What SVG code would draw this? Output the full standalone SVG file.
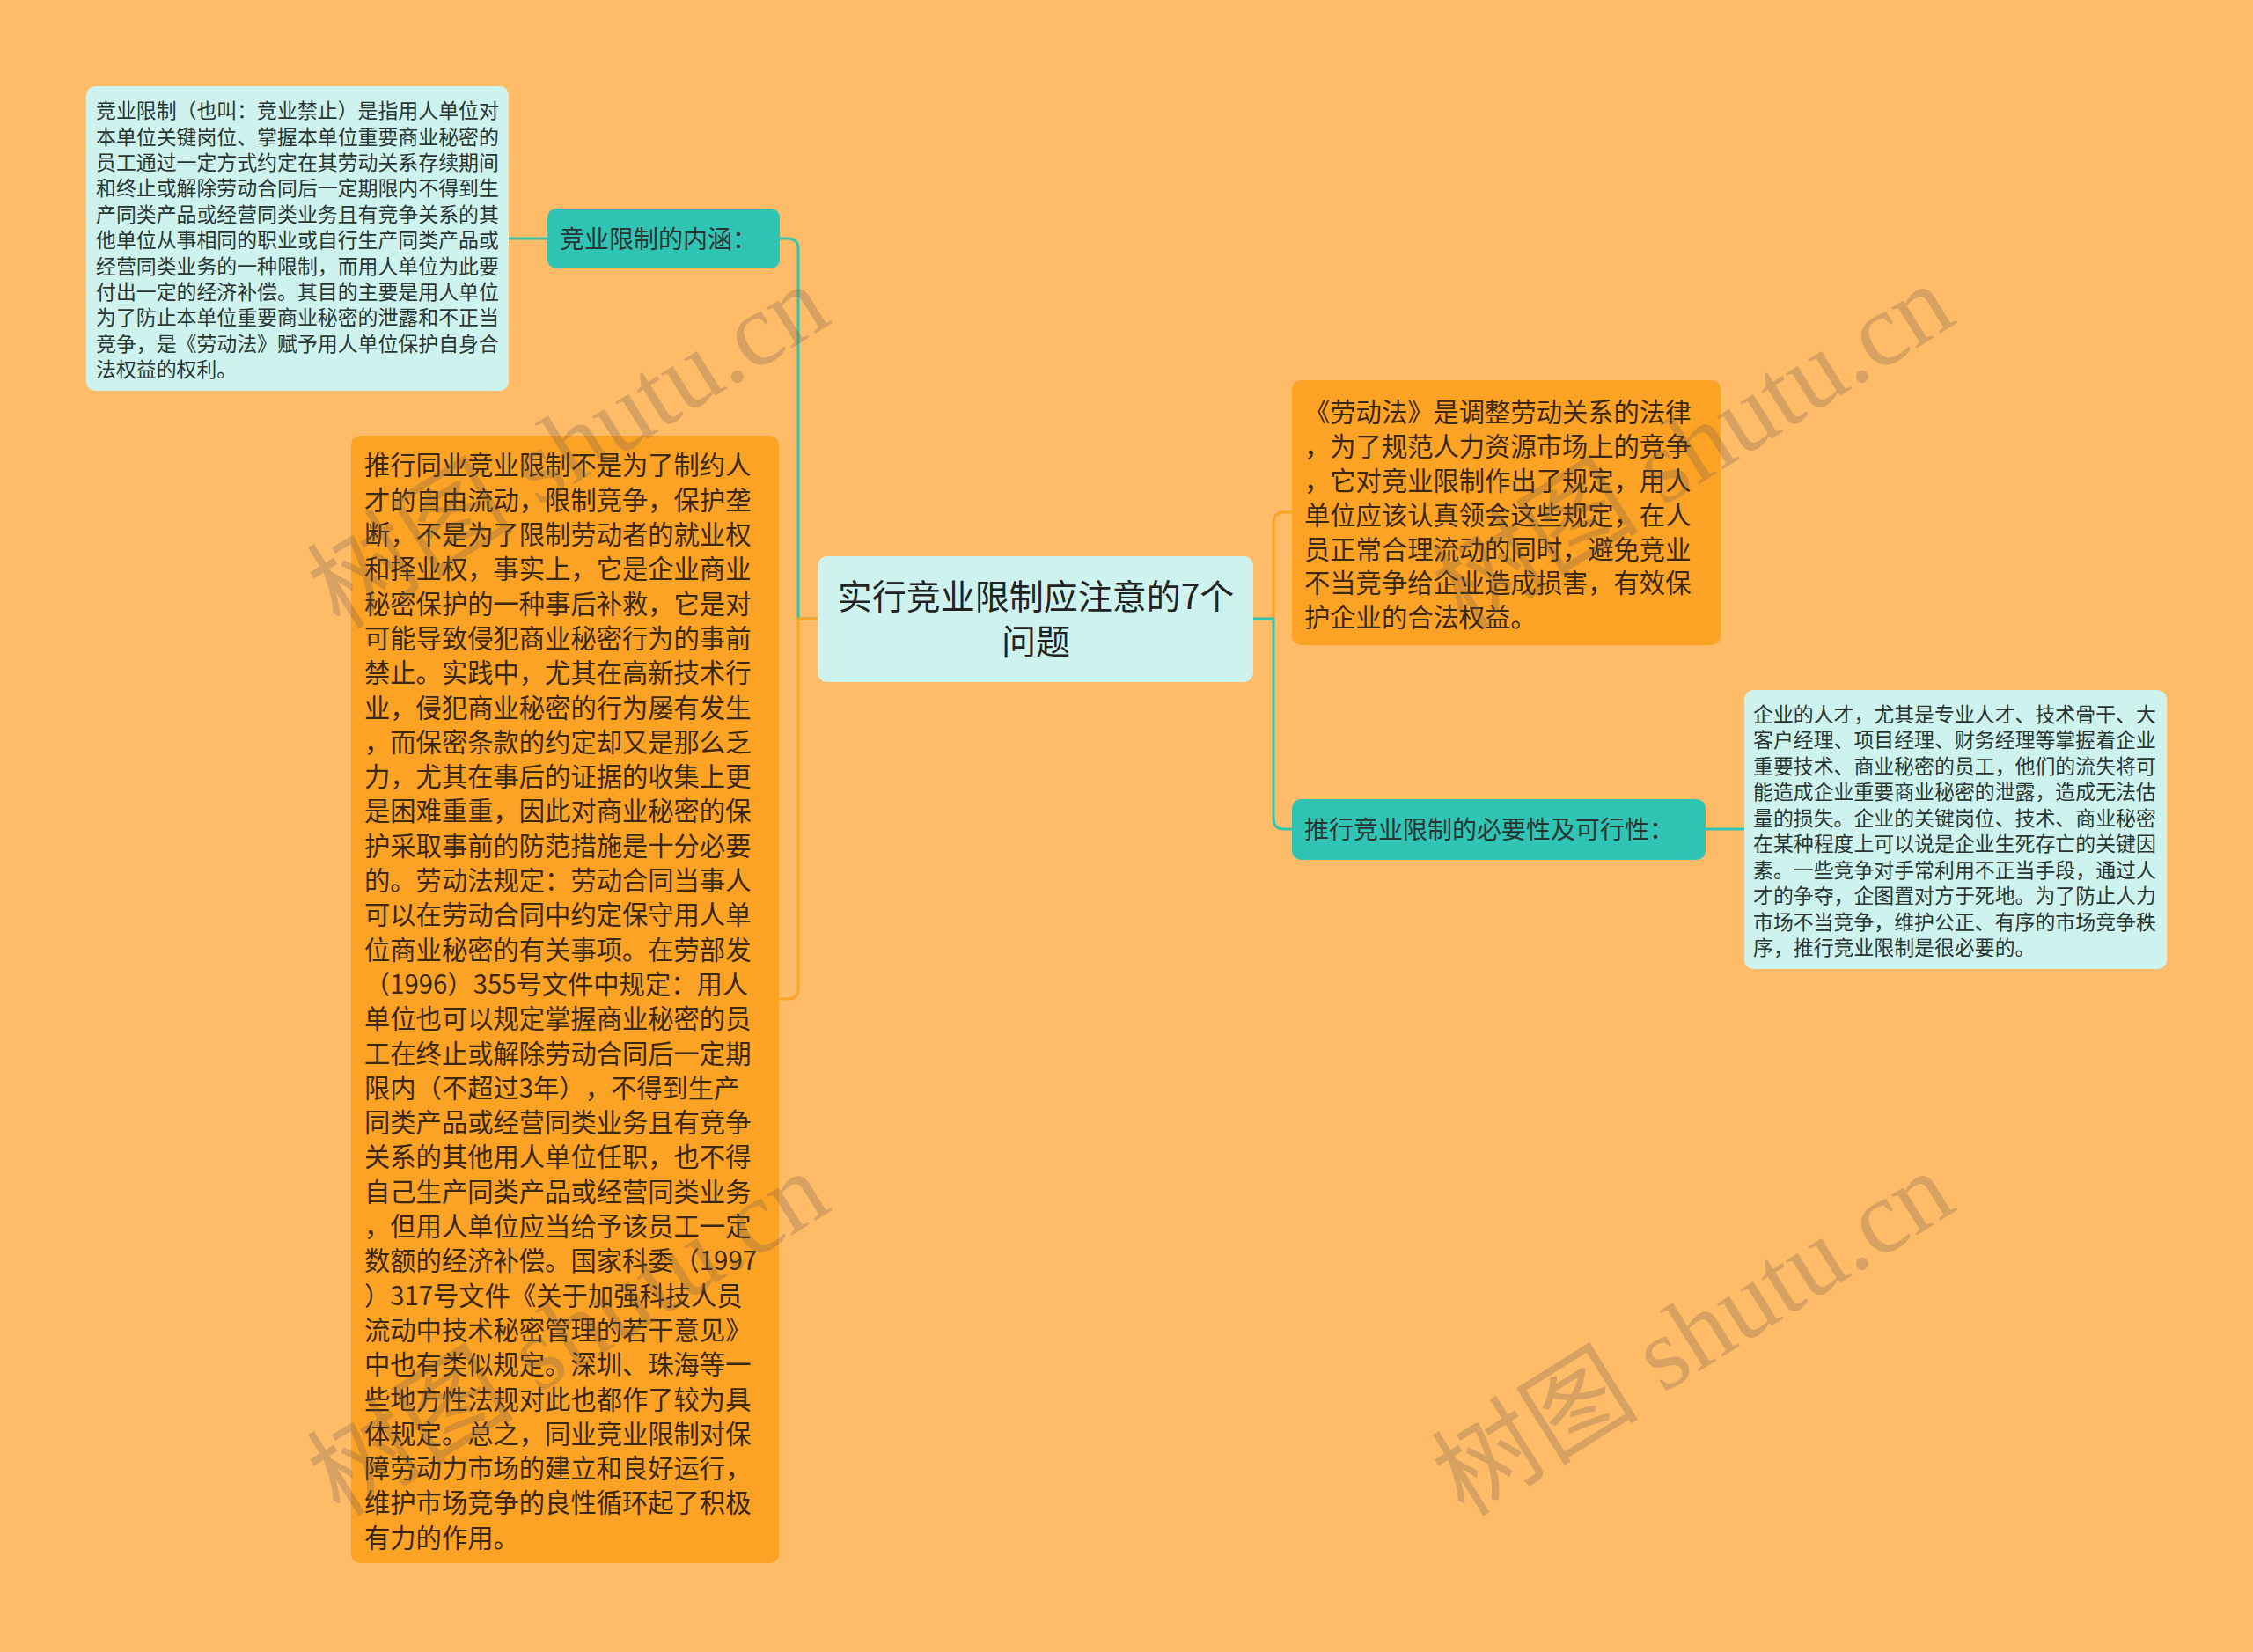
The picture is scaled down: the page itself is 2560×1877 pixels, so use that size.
<svg xmlns="http://www.w3.org/2000/svg" width="2560" height="1877" viewBox="0 0 2560 1877">
<style>
.t{font-family:"Noto Sans CJK SC","Noto Sans",sans-serif;text-spacing-trim:space-all}
.light{fill:#CEF3EE}
.orange{fill:#FCA224}
.teal{fill:#2FC4B3}
.tl{fill:#2a3532}
.to{fill:#3a2812}
.s{font-size:22.9px}
.m{font-size:29.3px}
.c{stroke-width:3;fill:none;stroke-linejoin:round}
.ct{stroke:#2FC4B3}
.co{stroke:#FCA224}
.wm{font-family:"Liberation Serif","Noto Sans CJK SC",serif;font-size:118px;fill:#6f5f50;fill-opacity:0.28}
</style>
<rect x="0" y="0" width="2560" height="1877" fill="#FEBC68"/>
<g id="connectors">
<path class="c ct" d="M578,271 L622,271"/>
<path class="c ct" d="M929,703 L907,703 L907,283 Q907,271 895,271 L886,271"/>
<path class="c co" d="M929,703 L907,703 L907,1123 Q907,1135 895,1135 L885,1135"/>
<path class="c co" d="M1424,703 L1447,703 L1447,594 Q1447,582 1459,582 L1468,582"/>
<path class="c ct" d="M1424,703 L1447,703 L1447,930 Q1447,942 1459,942 L1468,942"/>
<path class="c ct" d="M1938,942 L1982,942"/>
</g>
<g id="root">
<rect class="light" x="929" y="632" width="495" height="143" rx="11"/>
<text class="t" font-size="39" fill="#222" text-anchor="middle"><tspan x="1177" y="692">实行竞业限制应注意的7个</tspan><tspan x="1177" y="743">问题</tspan></text>
</g>
<g id="n-neihan">
<rect class="teal" x="622" y="237" width="264" height="68" rx="10"/>
<text class="t tl" font-size="28" x="636" y="281.5">竞业限制的内涵：</text>
</g>
<g id="n-neihan-detail">
<rect class="light" x="98" y="98" width="480" height="346" rx="10"/>
<text class="t tl s">
<tspan x="109" y="134.2">竞业限制（也叫：竞业禁止）是指用人单位对</tspan>
<tspan x="109" y="163.6">本单位关键岗位、掌握本单位重要商业秘密的</tspan>
<tspan x="109" y="193">员工通过一定方式约定在其劳动关系存续期间</tspan>
<tspan x="109" y="222.4">和终止或解除劳动合同后一定期限内不得到生</tspan>
<tspan x="109" y="251.8">产同类产品或经营同类业务且有竞争关系的其</tspan>
<tspan x="109" y="281.2">他单位从事相同的职业或自行生产同类产品或</tspan>
<tspan x="109" y="310.6">经营同类业务的一种限制，而用人单位为此要</tspan>
<tspan x="109" y="340">付出一定的经济补偿。其目的主要是用人单位</tspan>
<tspan x="109" y="369.4">为了防止本单位重要商业秘密的泄露和不正当</tspan>
<tspan x="109" y="398.8">竞争，是《劳动法》赋予用人单位保护自身合</tspan>
<tspan x="109" y="428.2">法权益的权利。</tspan>
</text>
</g>
<g id="n-tuixing-tongye">
<rect class="orange" x="399" y="495" width="486" height="1281" rx="10"/>
<text class="t to m">
<tspan x="414" y="539.4">推行同业竞业限制不是为了制约人</tspan>
<tspan x="414" y="578.7">才的自由流动，限制竞争，保护垄</tspan>
<tspan x="414" y="618">断，不是为了限制劳动者的就业权</tspan>
<tspan x="414" y="657.3">和择业权，事实上，它是企业商业</tspan>
<tspan x="414" y="696.6">秘密保护的一种事后补救，它是对</tspan>
<tspan x="414" y="735.9">可能导致侵犯商业秘密行为的事前</tspan>
<tspan x="414" y="775.2">禁止。实践中，尤其在高新技术行</tspan>
<tspan x="414" y="814.5">业，侵犯商业秘密的行为屡有发生</tspan>
<tspan x="414" y="853.8">，而保密条款的约定却又是那么乏</tspan>
<tspan x="414" y="893.1">力，尤其在事后的证据的收集上更</tspan>
<tspan x="414" y="932.4">是困难重重，因此对商业秘密的保</tspan>
<tspan x="414" y="971.7">护采取事前的防范措施是十分必要</tspan>
<tspan x="414" y="1011">的。劳动法规定：劳动合同当事人</tspan>
<tspan x="414" y="1050.3">可以在劳动合同中约定保守用人单</tspan>
<tspan x="414" y="1089.6">位商业秘密的有关事项。在劳部发</tspan>
<tspan x="414" y="1128.9">（1996）355号文件中规定：用人</tspan>
<tspan x="414" y="1168.2">单位也可以规定掌握商业秘密的员</tspan>
<tspan x="414" y="1207.5">工在终止或解除劳动合同后一定期</tspan>
<tspan x="414" y="1246.8">限内（不超过3年），不得到生产</tspan>
<tspan x="414" y="1286.1">同类产品或经营同类业务且有竞争</tspan>
<tspan x="414" y="1325.4">关系的其他用人单位任职，也不得</tspan>
<tspan x="414" y="1364.7">自己生产同类产品或经营同类业务</tspan>
<tspan x="414" y="1404">，但用人单位应当给予该员工一定</tspan>
<tspan x="414" y="1443.3">数额的经济补偿。国家科委（1997</tspan>
<tspan x="414" y="1482.6">）317号文件《关于加强科技人员</tspan>
<tspan x="414" y="1521.9">流动中技术秘密管理的若干意见》</tspan>
<tspan x="414" y="1561.2">中也有类似规定。深圳、珠海等一</tspan>
<tspan x="414" y="1600.5">些地方性法规对此也都作了较为具</tspan>
<tspan x="414" y="1639.8">体规定。总之，同业竞业限制对保</tspan>
<tspan x="414" y="1679.1">障劳动力市场的建立和良好运行，</tspan>
<tspan x="414" y="1718.4">维护市场竞争的良性循环起了积极</tspan>
<tspan x="414" y="1757.7">有力的作用。</tspan>
</text>
</g>
<g id="n-laodongfa">
<rect class="orange" x="1468" y="432" width="487" height="301" rx="10"/>
<text class="t to m">
<tspan x="1482" y="479.4">《劳动法》是调整劳动关系的法律</tspan>
<tspan x="1482" y="518.2">，为了规范人力资源市场上的竞争</tspan>
<tspan x="1482" y="557">，它对竞业限制作出了规定，用人</tspan>
<tspan x="1482" y="595.8">单位应该认真领会这些规定，在人</tspan>
<tspan x="1482" y="634.6">员正常合理流动的同时，避免竞业</tspan>
<tspan x="1482" y="673.4">不当竞争给企业造成损害，有效保</tspan>
<tspan x="1482" y="712.2">护企业的合法权益。</tspan>
</text>
</g>
<g id="n-biyaoxing">
<rect class="teal" x="1468" y="908" width="470" height="69" rx="10"/>
<text class="t tl" font-size="28" x="1482" y="953">推行竞业限制的必要性及可行性：</text>
</g>
<g id="n-biyaoxing-detail">
<rect class="light" x="1982" y="784" width="480" height="317" rx="10"/>
<text class="t tl s">
<tspan x="1992" y="819.7">企业的人才，尤其是专业人才、技术骨干、大</tspan>
<tspan x="1992" y="849.2">客户经理、项目经理、财务经理等掌握着企业</tspan>
<tspan x="1992" y="878.7">重要技术、商业秘密的员工，他们的流失将可</tspan>
<tspan x="1992" y="908.2">能造成企业重要商业秘密的泄露，造成无法估</tspan>
<tspan x="1992" y="937.7">量的损失。企业的关键岗位、技术、商业秘密</tspan>
<tspan x="1992" y="967.2">在某种程度上可以说是企业生死存亡的关键因</tspan>
<tspan x="1992" y="996.7">素。一些竞争对手常利用不正当手段，通过人</tspan>
<tspan x="1992" y="1026.2">才的争夺，企图置对方于死地。为了防止人力</tspan>
<tspan x="1992" y="1055.7">市场不当竞争，维护公正、有序的市场竞争秩</tspan>
<tspan x="1992" y="1085.2">序，推行竞业限制是很必要的。</tspan>
</text>
</g>
<g id="watermarks">
<text class="wm" text-anchor="middle" dy="0.35em" transform="translate(645,506) rotate(-32)">树图 shutu.cn</text>
<text class="wm" text-anchor="middle" dy="0.35em" transform="translate(1923,506) rotate(-32)">树图 shutu.cn</text>
<text class="wm" text-anchor="middle" dy="0.35em" transform="translate(645,1514) rotate(-32)">树图 shutu.cn</text>
<text class="wm" text-anchor="middle" dy="0.35em" transform="translate(1923,1514) rotate(-32)">树图 shutu.cn</text>
</g>
</svg>
